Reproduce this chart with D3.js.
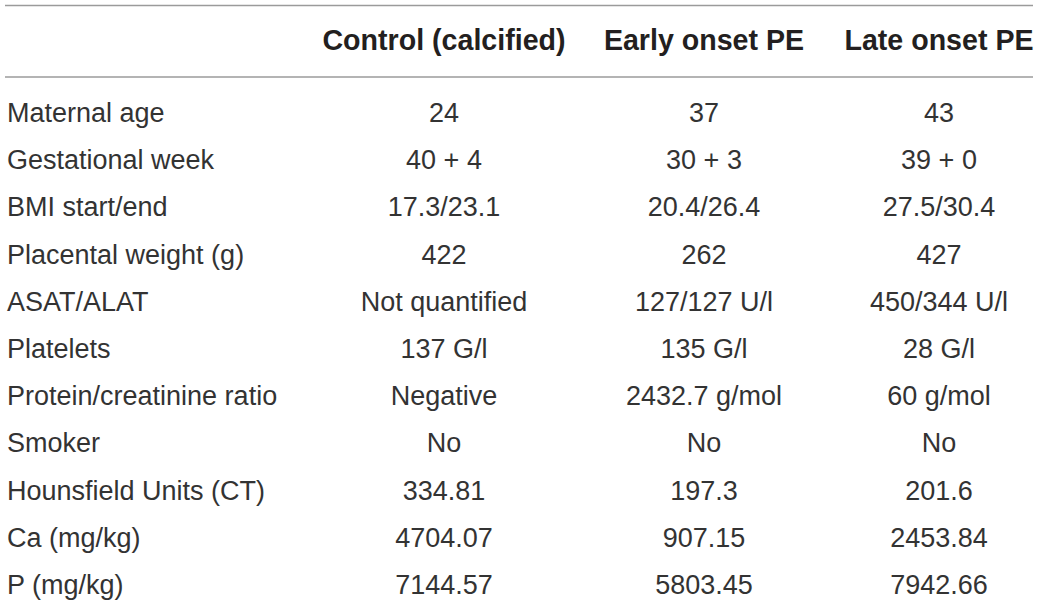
<!DOCTYPE html>
<html>
<head>
<meta charset="utf-8">
<script src="https://cdn.jsdelivr.net/npm/d3@7"></script>
<style>
  html, body { margin: 0; padding: 0; background: #fff; }
  svg { display: block; }
  .head { font-family: "Liberation Sans", Arial, sans-serif; font-weight: bold; font-size: 28.6px; fill: #231f20; }
  .cell { font-family: "Liberation Sans", Arial, sans-serif; font-size: 27px; fill: #333; }
</style>
</head>
<body>
<div id="table"></div>
<script>
// table contents
var columns = ["Control (calcified)", "Early onset PE", "Late onset PE"];

var rowLabels = ["Maternal age", "Gestational week", "BMI start/end", "Placental weight (g)",
  "ASAT/ALAT", "Platelets", "Protein/creatinine ratio", "Smoker",
  "Hounsfield Units (CT)", "Ca (mg/kg)", "P (mg/kg)"];

var controlValues = ["24", "40 + 4", "17.3/23.1", "422", "Not quantified", "137 G/l",
  "Negative", "No", "334.81", "4704.07", "7144.57"];
var earlyValues = ["37", "30 + 3", "20.4/26.4", "262", "127/127 U/l", "135 G/l",
  "2432.7 g/mol", "No", "197.3", "907.15", "5803.45"];
var lateValues = ["43", "39 + 0", "27.5/30.4", "427", "450/344 U/l", "28 G/l",
  "60 g/mol", "No", "201.6", "2453.84", "7942.66"];

var W = 1040, H = 607;

var svg = d3.select("#table").append("svg").attr("width", W).attr("height", H);

// column centres and row baselines
var x = d3.scaleOrdinal().domain(columns).range([444, 704, 939]);
var y = d3.scalePoint().domain(rowLabels).range([122, 594]);

var left = 5, right = 1033;

// rules above and below the header
svg.selectAll("line.rule")
  .data([5.5, 77])
  .enter().append("line")
  .attr("class", "rule")
  .attr("x1", left).attr("x2", right)
  .attr("y1", d => d).attr("y2", d => d)
  .attr("stroke", "#9b9b9b")
  .attr("stroke-width", 1.6);

svg.selectAll("text.head")
  .data(columns)
  .enter().append("text")
  .attr("class", "head")
  .attr("x", d => x(d))
  .attr("y", 50)
  .attr("text-anchor", "middle")
  .text(d => d);

svg.selectAll("text.label")
  .data(rowLabels)
  .enter().append("text")
  .attr("class", "cell label")
  .attr("x", 7)
  .attr("y", d => y(d))
  .text(d => d);

var series = [controlValues, earlyValues, lateValues];

series.forEach(function(vals, c) {
  svg.selectAll("text.c" + c)
    .data(vals)
    .enter().append("text")
    .attr("class", "cell c" + c)
    .attr("x", x(columns[c]))
    .attr("y", (d, i) => y(rowLabels[i]))
    .attr("text-anchor", "middle")
    .text(d => d);
});
</script>
</body>
</html>
